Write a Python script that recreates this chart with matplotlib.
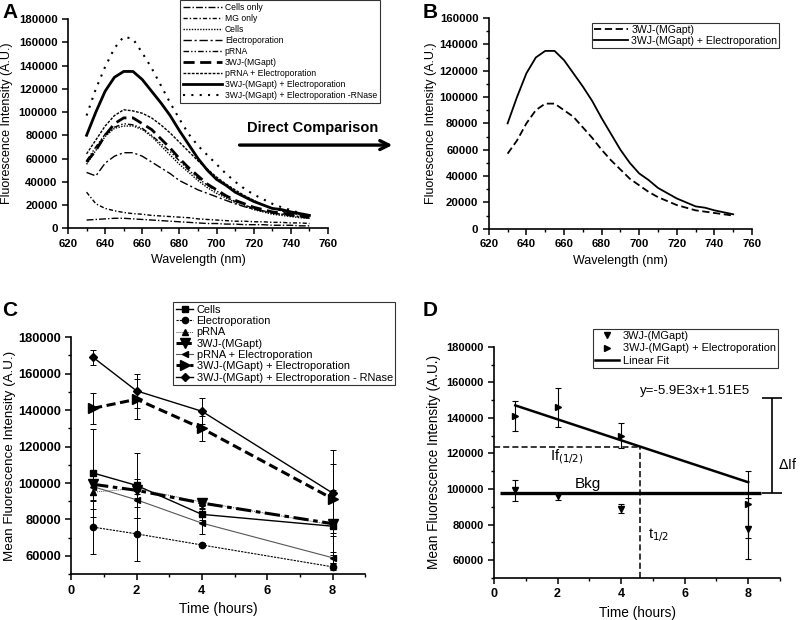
import numpy as np
import matplotlib
matplotlib.use("Agg")
import matplotlib.pyplot as plt
from matplotlib.ticker import MultipleLocator

plt.rcParams['font.family'] = ['Liberation Sans', 'DejaVu Sans']

# ---------------- data ----------------
wavelength = [630, 635, 640, 645, 650, 655, 660, 665, 670, 675, 680, 685, 690,
              695, 700, 705, 710, 715, 720, 725, 730, 735, 740, 745, 750]

cells_only = [7000, 7500, 8000, 8500, 8500, 8000, 7500, 7000, 6500, 6000, 5500, 5000, 4500,
              4000, 4000, 3500, 3500, 3000, 3000, 3000, 2500, 2500, 2500, 2000, 2000]
mg_only = [31000, 21000, 17000, 15000, 13500, 12500, 12000, 11000, 10500, 10000, 9500, 9000, 8000,
           7500, 7000, 6500, 6000, 6000, 5500, 5500, 5000, 5000, 4500, 4500, 4000]
cells = [55000, 67000, 79000, 86000, 88000, 88000, 85000, 79000, 71000, 63000, 55000, 48000, 41000,
         35000, 30000, 26000, 22000, 19000, 16000, 14000, 12000, 11000, 10000, 9000, 8500]
electroporation = [48000, 45000, 56000, 62000, 65000, 65000, 62000, 57000, 52000, 47000, 41000, 37000, 33000,
                   30000, 27000, 24000, 21000, 18500, 16500, 14500, 13000, 12000, 10500, 9500, 8500]
prna = [58000, 70000, 81000, 87000, 90000, 89000, 86000, 80000, 73000, 66000, 58000, 50000, 43000,
        37000, 32000, 27000, 23000, 20000, 17000, 15000, 13000, 12000, 11000, 10000, 9000]
wj3 = [57000, 67000, 80000, 90000, 95000, 95000, 90000, 85000, 77000, 69000, 60000, 52000, 45000,
       38000, 33000, 28000, 24000, 21000, 18000, 16000, 14000, 13000, 12000, 11000, 10000]
prna_e = [64000, 76000, 88000, 97000, 102000, 101000, 99000, 95000, 89000, 82000, 74000, 66000, 58000,
          51000, 44000, 38000, 33000, 28000, 24000, 20000, 17000, 15000, 13000, 11500, 10000]
wj3_e = [80000, 100000, 118000, 130000, 135000, 135000, 128000, 118000, 108000, 97000, 84000, 72000, 60000,
         50000, 42000, 37000, 31000, 27000, 23000, 20000, 17000, 16000, 14000, 12500, 11000]
wj3_e_rnase = [97000, 120000, 139000, 155000, 165000, 163000, 151000, 138000, 123000, 108000, 94000, 81000, 71000,
               63000, 55000, 47000, 40000, 34000, 29000, 25000, 21000, 18000, 15500, 13000, 11000]

labels_a = ["Cells only", "MG only", "Cells", "Electroporation", "pRNA", "3WJ-(MGapt)",
            "pRNA + Electroporation", "3WJ-(MGapt) + Electroporation",
            "3WJ-(MGapt) + Electroporation -RNase"]

time_h = [0.67, 2, 4, 8]
c_cells = [105500, 98700, 82800, 76300]
c_cells_err = [24000, 18000, 3000, 20000]
c_elec = [75800, 72100, 66000, 54000]
c_elec_err = [15000, 14700, 1000, 1500]
c_prna = [95000, 97000, 89500, 77000]
c_prna_err = [9000, 5000, 2000, 2000]
c_wj3 = [99300, 96000, 89000, 77700]
c_wj3_err = [6000, 2000, 2500, 17000]
c_prna_e = [98000, 90800, 78000, 59000]
c_prna_e_err = [8000, 10000, 6000, 3000]
c_wj3_e = [141000, 146000, 130000, 91400]
c_wj3_e_err = [8500, 11000, 7000, 19000]
c_rnase = [169000, 150600, 139400, 94500]
c_rnase_err = [4000, 9500, 7000, 23500]

labels_c = ["Cells", "Electroporation", "pRNA", "3WJ-(MGapt)", "pRNA + Electroporation",
            "3WJ-(MGapt) + Electroporation", "3WJ-(MGapt) + Electroporation - RNase"]

fit_slope = -5900
fit_intercept = 151000
t_half = 4.6
bkg_level = 98000
delta_if_top = 151000

# ---------------- figure ----------------
fig = plt.figure(figsize=(8, 6.2), dpi=100)


def style_axes(ax, tick_fs):
    for s in ['top', 'right']:
        ax.spines[s].set_visible(False)
    for s in ['left', 'bottom']:
        ax.spines[s].set_linewidth(1.2)
    ax.tick_params(which='major', direction='out', length=4, width=1.1, labelsize=tick_fs)
    ax.tick_params(which='minor', direction='out', length=2.5, width=1.0)


def bold_ticks(ax):
    for lab in ax.get_xticklabels() + ax.get_yticklabels():
        lab.set_fontweight('bold')


# ---- Panel A ----
axA = fig.add_axes([0.085, 0.632, 0.325, 0.337])
styles_a = [
    dict(ls=(0, (5, 1.5, 1, 1.5)), lw=1.0),
    dict(ls=(0, (3, 1.5, 1, 1.5)), lw=1.0),
    dict(ls=(0, (1, 1)), lw=1.0),
    dict(ls=(0, (6, 2, 1.5, 2)), lw=1.0),
    dict(ls=(0, (4, 1.5, 1, 1.5, 1, 1.5)), lw=1.0),
    dict(ls=(0, (4, 2)), lw=2.0),
    dict(ls=(0, (2, 1)), lw=1.0),
    dict(ls='-', lw=2.0),
    dict(ls=(0, (1, 3)), lw=1.5),
]
series_a = [cells_only, mg_only, cells, electroporation, prna, wj3, prna_e, wj3_e, wj3_e_rnase]
for ys, lab, st in zip(series_a, labels_a, styles_a):
    axA.plot(wavelength, ys, color='black', label=lab, **st)
axA.set_xlim(620, 760)
axA.set_ylim(0, 180000)
axA.xaxis.set_major_locator(MultipleLocator(20))
axA.xaxis.set_minor_locator(MultipleLocator(10))
axA.yaxis.set_major_locator(MultipleLocator(20000))
axA.set_xlabel("Wavelength (nm)", fontsize=9)
axA.set_ylabel("Fluorescence Intensity (A.U.)", fontsize=9)
style_axes(axA, 8.2)
legA = axA.legend(loc='upper left', bbox_to_anchor=(180 / 800, 1.0), bbox_transform=fig.transFigure,
                  fontsize=6.2, frameon=True, fancybox=False, edgecolor='black', handlelength=4.5,
                  labelspacing=0.22, borderpad=0.4, handletextpad=0.3, borderaxespad=0)
legA.get_frame().set_linewidth(0.8)

# ---- Panel B ----
axB = fig.add_axes([0.611, 0.631, 0.329, 0.340])
axB.plot(wavelength, wj3, color='black', ls=(0, (4, 2)), lw=1.3, label="3WJ-(MGapt)")
axB.plot(wavelength, wj3_e, color='black', ls='-', lw=1.3, label="3WJ-(MGapt) + Electroporation")
axB.set_xlim(620, 760)
axB.set_ylim(0, 160000)
axB.xaxis.set_major_locator(MultipleLocator(20))
axB.xaxis.set_minor_locator(MultipleLocator(10))
axB.yaxis.set_major_locator(MultipleLocator(20000))
axB.yaxis.set_minor_locator(MultipleLocator(10000))
axB.set_xlabel("Wavelength (nm)", fontsize=9)
axB.set_ylabel("Fluorescence Intensity (A.U.)", fontsize=9, labelpad=2)
style_axes(axB, 8.2)
legB = axB.legend(loc='upper right', bbox_to_anchor=(779 / 800, 1 - 23 / 620), bbox_transform=fig.transFigure,
                  fontsize=7.6, frameon=True, fancybox=False, edgecolor='black', handlelength=3.2,
                  labelspacing=0.1, borderpad=0.18, handletextpad=0.3, borderaxespad=0)
legB.get_frame().set_linewidth(0.8)

# ---- Panel C ----
axC = fig.add_axes([0.089, 0.074, 0.3675, 0.382])
c_series = [
    (c_cells, c_cells_err, dict(marker='s', ms=4.5, ls='-', lw=1.0, color='black')),
    (c_elec, c_elec_err, dict(marker='o', ms=4.5, ls=(0, (2, 1)), lw=0.8, color='black')),
    (c_prna, c_prna_err, dict(marker='^', ms=5, ls=(0, (1, 1)), lw=0.7, color='#555555', mfc='black', mec='black')),
    (c_wj3, c_wj3_err, dict(marker='v', ms=7.5, ls=(0, (5, 1.5, 1.5, 1.5)), lw=2.2, color='black')),
    (c_prna_e, c_prna_e_err, dict(marker='<', ms=5, ls='-', lw=0.8, color='#555555', mfc='black', mec='black')),
    (c_wj3_e, c_wj3_e_err, dict(marker='>', ms=7.5, ls=(0, (3, 1.5)), lw=2.2, color='black')),
    (c_rnase, c_rnase_err, dict(marker='D', ms=4.5, ls='-', lw=1.0, color='black')),
]
for (ys, err, st), lab in zip(c_series, labels_c):
    axC.errorbar(time_h, ys, yerr=err, fmt='none', ecolor='black', elinewidth=0.7, capsize=2.5, capthick=0.7)
    axC.plot(time_h, ys, label=lab, **st)
axC.set_xlim(0, 9)
axC.set_ylim(50000, 180000)
axC.xaxis.set_major_locator(MultipleLocator(2))
axC.xaxis.set_minor_locator(MultipleLocator(1))
axC.yaxis.set_major_locator(MultipleLocator(20000))
axC.yaxis.set_minor_locator(MultipleLocator(10000))
axC.set_xlabel("Time (hours)", fontsize=10)
axC.set_ylabel("Mean Fluorescence Intensity (A.U.)", fontsize=9.6, labelpad=1.5)
style_axes(axC, 9.3)
legC = axC.legend(loc='upper left', bbox_to_anchor=(173 / 800, 1 - 302 / 620), bbox_transform=fig.transFigure,
                  fontsize=7.9, frameon=True, fancybox=False, edgecolor='black', handlelength=1.6,
                  labelspacing=0.12, borderpad=0.25, handletextpad=0.3, borderaxespad=0)
legC.get_frame().set_linewidth(0.8)

# ---- Panel D ----
axD = fig.add_axes([0.6175, 0.068, 0.3575, 0.3726])
axD.errorbar(time_h, c_wj3, yerr=c_wj3_err, fmt='none', ecolor='black', elinewidth=0.8, capsize=2.5, capthick=0.8)
axD.errorbar(time_h, c_wj3_e, yerr=c_wj3_e_err, fmt='none', ecolor='black', elinewidth=0.8, capsize=2.5, capthick=0.8)
axD.plot(time_h, c_wj3, ls='none', marker='v', ms=5, color='black', label="3WJ-(MGapt)")
axD.plot(time_h, c_wj3_e, ls='none', marker='>', ms=5, color='black', label="3WJ-(MGapt) + Electroporation")
fit_x = np.array([time_h[0], time_h[-1]])
axD.plot(fit_x, fit_slope * fit_x + fit_intercept, color='black', lw=1.8, label="Linear Fit")
axD.hlines(bkg_level, 0.2, 8.4, color='black', lw=2.4)
if_half = fit_slope * t_half + fit_intercept
axD.hlines(if_half, 0, t_half, color='black', lw=1.1, ls=(0, (4, 2)))
axD.vlines(t_half, 50000, if_half, color='black', lw=1.1, ls=(0, (4, 2)))
axD.errorbar([8.75], [(bkg_level + delta_if_top) / 2], yerr=[(delta_if_top - bkg_level) / 2],
             fmt='none', ecolor='black', elinewidth=1.2, capsize=7, capthick=1.2, clip_on=False)
axD.text(4.6, 155000, "y=-5.9E3x+1.51E5", fontsize=9.5, ha='left', va='center')
axD.text(2.3, 118000, r"If$_{(1/2)}$", fontsize=10.5, ha='center', va='center')
axD.text(2.95, 103000, "Bkg", fontsize=11, ha='center', va='center')
axD.text(4.84, 74000, r"t$_{1/2}$", fontsize=10.5, ha='left', va='center')
axD.text(8.95, 113500, r"$\Delta$If", fontsize=10, ha='left', va='center', clip_on=False)
axD.set_xlim(0, 9)
axD.set_ylim(50000, 180000)
axD.xaxis.set_major_locator(MultipleLocator(2))
axD.xaxis.set_minor_locator(MultipleLocator(1))
axD.yaxis.set_major_locator(MultipleLocator(20000))
axD.yaxis.set_minor_locator(MultipleLocator(10000))
axD.set_xlabel("Time (hours)", fontsize=9.8)
axD.set_ylabel("Mean Fluorescence Intensity (A.U.)", fontsize=9.8)
style_axes(axD, 8.0)
axD.tick_params(axis='x', which='major', labelsize=9)
legD = axD.legend(loc='upper left', bbox_to_anchor=(593 / 800, 1 - 329 / 620), bbox_transform=fig.transFigure,
                  fontsize=7.9, frameon=True, fancybox=False, edgecolor='black', handlelength=2.2,
                  labelspacing=0.2, borderpad=0.2, handletextpad=0.3, borderaxespad=0)
legD.get_frame().set_linewidth(0.8)

# ---- panel letters and arrow ----
for letter, x, y in [("A", 0.003, 0.995), ("B", 0.528, 0.995), ("C", 0.003, 0.515), ("D", 0.528, 0.515)]:
    fig.text(x, y, letter, fontsize=15, fontweight='bold', ha='left', va='top')
fig.text(0.391, 0.793, "Direct Comparison", fontsize=10.5, fontweight='bold', ha='center', va='center')
fig.patches.append(matplotlib.patches.FancyArrowPatch(
    (0.296, 0.766), (0.494, 0.766), transform=fig.transFigure, arrowstyle='->',
    mutation_scale=16, lw=2.4, color='black'))

fig.canvas.draw()
for ax in (axA, axB, axC, axD):
    bold_ticks(ax)
fig.savefig("out.png", dpi=100)
